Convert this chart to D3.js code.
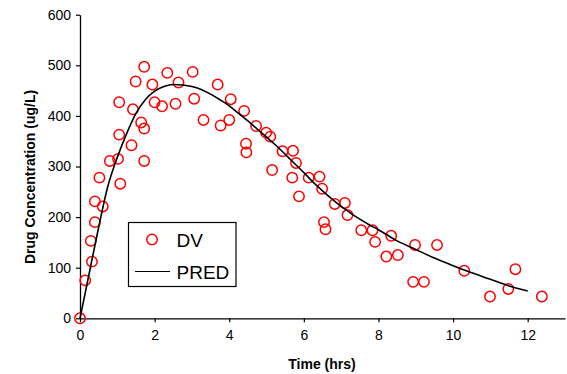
<!DOCTYPE html>
<html>
<head>
<meta charset="utf-8">
<script src="https://cdn.jsdelivr.net/npm/d3@7"></script>
<style>
  html, body { margin: 0; padding: 0; background: #fff; }
  svg { display: block; font-family: Arial, "Liberation Sans", sans-serif; }
</style>
</head>
<body>
<svg id="chart" width="567" height="374"></svg>
<script>
// Observed concentrations (DV)
const dvTime = [0, 0.14, 0.32, 0.29, 0.40, 0.40, 0.61, 0.52, 0.80, 1.02, 1.08, 1.05, 1.05, 1.38, 1.42, 1.64, 1.72, 1.72, 1.49, 1.72,
  1.94, 2.00, 2.20, 2.34, 2.56, 2.64, 3.02, 3.06, 3.31, 3.69, 3.77, 4.00, 4.04, 4.40, 4.45, 4.46, 4.72, 4.99, 5.10, 5.15,
  5.43, 5.71, 5.79, 5.69, 5.87, 6.13, 6.42, 6.49, 6.54, 6.58, 6.83, 7.10, 7.17, 7.54, 7.84, 7.91, 8.34, 8.21, 8.52, 8.98,
  9.57, 8.93, 9.22, 10.30, 10.99, 11.48, 11.67, 12.38];
const dvConc = [0, 75, 112, 153, 190, 231, 221, 278, 311, 315, 266, 363, 427, 342, 413, 387, 375, 311, 468, 497,
  462, 427, 419, 485, 424, 466, 487, 434, 392, 462, 381, 392, 433, 410, 345, 328, 380, 367, 359, 293,
  330, 331, 307, 278, 241, 278, 280, 256, 190, 176, 226, 228, 204, 174, 174, 151, 163, 122, 125, 145,
  145, 72, 72, 94, 43, 58, 97, 43];

// Population prediction (PRED)
const predTime = [0, 0.25, 0.5, 0.75, 1.0, 1.25, 1.5, 1.75, 2.0, 2.25, 2.5, 2.75, 3.0, 3.25, 3.5, 3.75, 4.0, 4.25, 4.5, 4.75,
  5.0, 5.25, 5.5, 5.75, 6.0, 6.25, 6.5, 6.75, 7.0, 7.25, 7.5, 7.75, 8.0, 8.5, 9.0, 9.5, 10.0, 10.5, 11.0, 11.5, 12.0];
const predConc = [0, 90, 180, 262, 318, 365, 405, 432, 449, 458, 462, 461, 458, 452, 443, 432, 420, 405, 390, 374,
  358, 342, 324, 306, 288, 269, 252, 236, 221, 208, 196, 185, 175, 153, 136, 119, 104, 90, 77, 64, 54];

const xTicks = [0, 2, 4, 6, 8, 10, 12];
const yTicks = [0, 100, 200, 300, 400, 500, 600];
const xTitle = "Time (hrs)";
const yTitle = "Drug Concentration (ug/L)";
const legendLabels = ["DV", "PRED"];

const svg = d3.select("#chart");
const x = d3.scaleLinear().domain([0, 13]).range([80, 565]);
const y = d3.scaleLinear().domain([0, 600]).range([318.3, 14.7]);

// axes
const xAxis = svg.append("g").attr("transform", "translate(0,318.3)")
  .call(d3.axisBottom(x).tickValues(xTicks).tickSize(4).tickPadding(8).tickSizeOuter(0));
const yAxis = svg.append("g").attr("transform", "translate(80,0)")
  .call(d3.axisLeft(y).tickValues(yTicks).tickSize(4).tickPadding(5).tickSizeOuter(0));
[xAxis, yAxis].forEach(g => {
  g.select(".domain").attr("stroke", "#000").attr("stroke-width", 1.3);
  g.selectAll(".tick line").attr("stroke", "#000").attr("stroke-width", 1.2);
  g.selectAll(".tick text").attr("fill", "#000").style("font-size", "14px")
    .style("font-family", "Arial, 'Liberation Sans', sans-serif");
});

// titles
svg.append("text").attr("x", 322).attr("y", 369).attr("text-anchor", "middle")
  .style("font-size", "14px").style("font-weight", "bold").text(xTitle);
svg.append("text").attr("transform", "translate(35,177) rotate(-90)").attr("text-anchor", "middle")
  .style("font-size", "14px").style("font-weight", "bold").text(yTitle);

// DV points
const dv = dvTime.map((t, i) => ({ t, c: dvConc[i] }));
svg.append("g").selectAll("circle").data(dv).join("circle")
  .attr("cx", d => x(d.t)).attr("cy", d => y(d.c)).attr("r", 5.2)
  .attr("fill", "none").attr("stroke", "#ff0000").attr("stroke-width", 1.5);

// PRED line
const pred = predTime.map((t, i) => ({ t, c: predConc[i] }));
svg.append("path").datum(pred)
  .attr("fill", "none").attr("stroke", "#000").attr("stroke-width", 1.6)
  .attr("d", d3.line().x(d => x(d.t)).y(d => y(d.c)).curve(d3.curveMonotoneX));

// legend
const lg = svg.append("g");
lg.append("rect").attr("x", 128.5).attr("y", 222.5).attr("width", 107.5).attr("height", 64)
  .attr("fill", "#fff").attr("stroke", "#000").attr("stroke-width", 1.2);
lg.append("circle").attr("cx", 152).attr("cy", 239.5).attr("r", 5.2)
  .attr("fill", "none").attr("stroke", "#ff0000").attr("stroke-width", 1.5);
lg.append("text").attr("x", 176.5).attr("y", 246.5).style("font-size", "19px").text(legendLabels[0]);
lg.append("line").attr("x1", 135).attr("x2", 170).attr("y1", 271.5).attr("y2", 271.5)
  .attr("stroke", "#000").attr("stroke-width", 1.2);
lg.append("text").attr("x", 176.5).attr("y", 279).style("font-size", "19px").text(legendLabels[1]);
</script>
</body>
</html>
